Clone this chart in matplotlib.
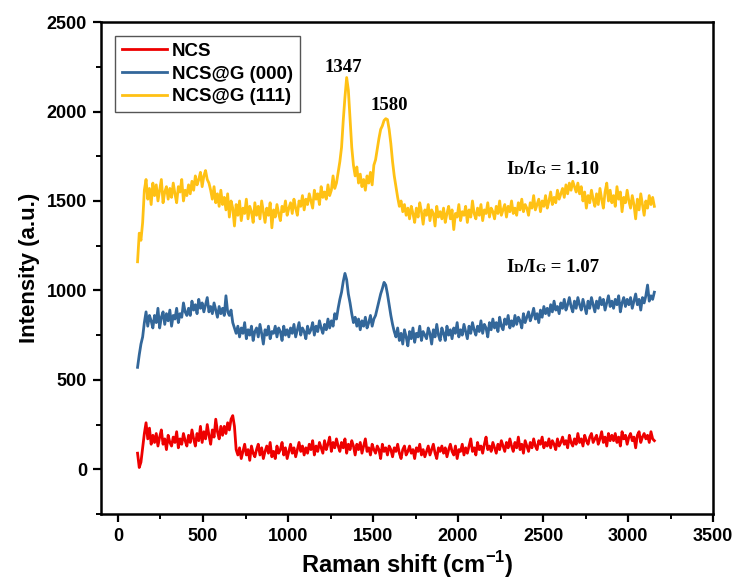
import numpy as np
import matplotlib
matplotlib.use("Agg")
import matplotlib.pyplot as plt
from matplotlib.offsetbox import TextArea, HPacker, AnnotationBbox
from matplotlib.ticker import MultipleLocator

plt.rcParams['font.family'] = ['Liberation Sans', 'DejaVu Sans']
plt.rcParams['mathtext.fontset'] = 'custom'
plt.rcParams['mathtext.rm'] = 'Liberation Sans:bold'
plt.rcParams['mathtext.bf'] = 'Liberation Sans:bold'

shift_start = 115
shift_step = 10

labels = ["NCS", "NCS@G (000)", "NCS@G (111)"]
colors = ["#EE0000", "#33679A", "#FFC114"]

ncs = [
    90, 10, 40, 120, 200, 260, 170, 230, 140, 190,
    150, 200, 130, 180, 220, 140, 170, 110, 190, 150,
    130, 180, 150, 210, 120, 170, 140, 200, 160, 130,
    190, 150, 220, 170, 130, 200, 160, 240, 150, 210,
    170, 250, 190, 140, 220, 180, 280, 210, 170, 240,
    190, 240, 200, 260, 220, 280, 300, 240, 110, 80,
    120, 60, 100, 140, 80, 110, 50, 130, 90, 70,
    110, 140, 80, 120, 60, 100, 130, 90, 150, 70,
    100, 60, 130, 90, 110, 150, 80, 120, 60, 100,
    140, 90, 120, 70, 110, 150, 100, 130, 80, 120,
    90, 140, 110, 160, 80, 130, 100, 150, 120, 90,
    160, 110, 140, 180, 100, 150, 120, 170, 130, 100,
    150, 120, 170, 90, 140, 110, 160, 130, 80, 140,
    110, 150, 90, 130, 170, 100, 120, 80, 140, 110,
    90, 130, 110, 60, 140, 100, 120, 80, 130, 110,
    70, 120, 100, 140, 90, 60, 110, 130, 80, 100,
    130, 90, 110, 60, 120, 100, 140, 80, 110, 70,
    100, 130, 80, 110, 140, 90, 60, 120, 100, 130,
    90, 120, 70, 110, 140, 100, 80, 130, 60, 110,
    100, 140, 80, 120, 90, 130, 170, 100, 120, 80,
    150, 110, 130, 90, 140, 180, 110, 130, 100, 150,
    120, 90, 140, 110, 160, 130, 100, 150, 120, 170,
    130, 100, 150, 120, 180, 110, 140, 90, 160, 130,
    100, 150, 120, 170, 130, 110, 160, 140, 180, 120,
    150, 130, 170, 120, 160, 140, 110, 170, 130, 150,
    180, 140, 160, 120, 190, 150, 130, 170, 140, 200,
    150, 170, 130, 190, 160, 140, 180, 200, 150, 170,
    190, 140, 170, 210, 150, 180, 130, 200, 160, 190,
    160, 200, 150, 180, 130, 210, 170, 190, 140, 180,
    200, 160, 180, 120, 190, 210, 150, 180, 200, 170,
    190, 150, 210, 170, 160,
]

ncs_g000 = [
    570, 640, 700, 740, 820, 880, 800, 860, 830, 790,
    860, 820, 900, 790, 850, 880, 810, 870, 830, 890,
    800, 860, 840, 900, 820, 870, 850, 930, 880, 860,
    900, 860, 940, 890, 920, 870, 950, 900, 930, 880,
    920, 960, 880, 910, 870, 930, 890, 850, 910, 870,
    900, 860, 970, 880, 860, 890, 820, 790, 760, 800,
    740, 790, 760, 820, 730, 780, 750, 800, 720, 770,
    790, 740, 810, 760, 700, 780, 750, 800, 730, 770,
    760, 800, 740, 790, 770, 720, 800, 750, 780, 740,
    790, 760, 810, 740, 780, 820, 750, 790, 770, 730,
    800, 760, 780, 820, 750, 800, 770, 830, 790, 760,
    810, 780, 840, 790, 830, 800, 870, 840, 900, 950,
    990, 1050, 1095, 1060, 980, 930, 870, 820, 850, 800,
    840, 780, 830, 800, 850, 790, 820, 860, 800, 840,
    860, 900, 940, 980, 1010, 1045, 1030, 980, 920, 860,
    810, 770, 740, 790, 720, 760, 700, 780, 740, 690,
    770, 730, 790, 710, 760, 740, 800, 720, 770, 750,
    730, 790, 760, 700, 780, 740, 810, 750, 720, 790,
    760, 720, 800, 750, 780, 730, 790, 760, 820, 740,
    780, 750, 810, 770, 730, 800, 760, 820, 780, 750,
    800, 770, 830, 760, 810, 790, 740, 820, 780, 840,
    790, 820, 770, 850, 800, 780, 840, 810, 860, 790,
    830, 800, 860, 810, 850, 830, 790, 870, 820, 850,
    880, 830, 860, 900, 840, 870, 820, 890, 850, 910,
    870, 900, 860, 920, 880, 940, 890, 910, 870, 930,
    900, 950, 890, 920, 960, 910, 880, 940, 900, 960,
    920, 890, 950, 910, 870, 940, 900, 960, 920, 880,
    940, 900, 960, 920, 950, 890, 930, 970, 910, 940,
    900, 950, 920, 970, 880, 930, 960, 910, 950, 920,
    960, 900, 940, 980, 920, 950, 890, 960, 930, 970,
    1030, 940, 970, 950, 990,
]

ncs_g111 = [
    1160, 1320, 1280, 1380, 1560, 1620, 1510, 1570, 1480, 1600,
    1530, 1590, 1500, 1560, 1620, 1490, 1550, 1580, 1510, 1570,
    1520, 1600, 1540, 1490, 1580, 1550, 1620, 1500, 1560, 1530,
    1590, 1540, 1610, 1560, 1640, 1590, 1620, 1660, 1580, 1640,
    1670, 1620, 1600, 1560, 1510, 1580, 1490, 1540, 1470, 1560,
    1480, 1520, 1450, 1540, 1410, 1500, 1460, 1360, 1480, 1420,
    1500, 1390, 1460, 1430, 1510, 1400, 1470, 1440, 1380, 1490,
    1420, 1470, 1400, 1500, 1440, 1380, 1460, 1420, 1490, 1350,
    1450, 1410, 1480, 1430, 1390, 1470, 1440, 1500, 1420, 1460,
    1490, 1430, 1510, 1460, 1420, 1500, 1470, 1530, 1450, 1510,
    1480, 1540, 1500, 1460, 1560, 1510, 1540, 1480, 1580, 1520,
    1550, 1510, 1590, 1530, 1560, 1640, 1570, 1600, 1660, 1720,
    1800, 1950, 2080, 2190, 2120, 1960, 1800, 1700, 1640, 1690,
    1600, 1650, 1580, 1620, 1560, 1640, 1600, 1660, 1590, 1700,
    1730, 1790, 1850, 1900, 1920, 1950, 1960, 1955, 1900, 1820,
    1720, 1640, 1580, 1520, 1470, 1500, 1440, 1480, 1420, 1460,
    1400, 1470, 1430, 1380, 1460, 1410, 1490, 1440, 1370, 1450,
    1420, 1480, 1390, 1450, 1430, 1360, 1470, 1410, 1440, 1400,
    1460, 1380, 1430, 1470, 1400, 1450, 1340, 1430, 1410, 1480,
    1390, 1440, 1420, 1470, 1380, 1450, 1410, 1500, 1430, 1400,
    1460, 1420, 1480, 1390, 1450, 1430, 1490, 1410, 1460, 1440,
    1400, 1470, 1430, 1500, 1420, 1450, 1480, 1410, 1470, 1440,
    1500, 1430, 1460, 1420, 1490, 1450, 1510, 1440, 1480, 1460,
    1420, 1490, 1460, 1530, 1450, 1480, 1510, 1440, 1500, 1470,
    1530, 1460, 1500, 1550, 1480, 1520, 1490, 1560, 1510, 1540,
    1570, 1520, 1590, 1540, 1600, 1560, 1610, 1580, 1550, 1600,
    1540, 1580, 1500, 1550, 1460, 1530, 1490, 1560, 1510, 1470,
    1540, 1480, 1570, 1510, 1460, 1550, 1600, 1500, 1560, 1490,
    1530, 1470, 1580, 1510, 1550, 1440, 1520, 1490, 1560, 1500,
    1460, 1530, 1480, 1400, 1510, 1450, 1540, 1480, 1420, 1500,
    1460, 1530, 1480, 1520, 1470,
]

series = [ncs, ncs_g000, ncs_g111]

peak_labels = ["1347", "1580"]
peak_pos = [(1325, 2248), (1596, 2036)]
ratio_values = ["1.10", "1.07"]
ratio_pos = [(2556, 1678), (2556, 1130)]

fig = plt.figure(figsize=(7.34, 5.81), dpi=100)
ax = fig.add_axes([0.1376, 0.1153, 0.8338, 0.8467])

for vals, lab, col in zip(series, labels, colors):
    x = shift_start + shift_step * np.arange(len(vals))
    ax.plot(x, vals, color=col, lw=2.0, label=lab)

ax.set_xlim(-100, 3500)
ax.set_ylim(-250, 2500)
ax.xaxis.set_major_locator(MultipleLocator(500))
ax.xaxis.set_minor_locator(MultipleLocator(250))
ax.yaxis.set_major_locator(MultipleLocator(500))
ax.yaxis.set_minor_locator(MultipleLocator(250))
ax.tick_params(which='major', direction='out', length=6, width=1.6, labelsize=13, pad=4)
ax.tick_params(which='minor', direction='out', length=3.5, width=1.4)
for lbl in ax.get_xticklabels() + ax.get_yticklabels():
    lbl.set_fontweight('bold')
for sp in ax.spines.values():
    sp.set_linewidth(1.8)

ax.set_xlabel(r'Raman shift (cm$^{\mathbf{-1}}$)', fontsize=17, fontweight='bold', labelpad=3)
ax.set_ylabel('Intensity (a.u.)', fontsize=16, fontweight='bold', labelpad=5)

leg = ax.legend(loc='upper left', bbox_to_anchor=(14/612, 1 - 14/492), borderaxespad=0,
                fancybox=False, edgecolor='#555555', framealpha=1,
                prop={'weight': 'bold', 'size': 13.5}, handlelength=2.4,
                handletextpad=0.3, labelspacing=0.3, borderpad=0.35)
leg.get_frame().set_linewidth(1.0)

for txt, (px, py) in zip(peak_labels, peak_pos):
    ax.text(px, py, txt, ha='center', va='center', fontsize=13.5,
            fontweight='bold', family='Liberation Serif')

big = dict(size=13.5, weight='bold', family='Liberation Serif', color='black')
small = dict(size=9.5, weight='bold', family='Liberation Serif', color='black')
for val, (px, py) in zip(ratio_values, ratio_pos):
    parts = [TextArea("I", textprops=big), TextArea("D", textprops=small),
             TextArea("/I", textprops=big), TextArea("G", textprops=small),
             TextArea(" = " + val, textprops=big)]
    box = HPacker(children=parts, align="baseline", pad=0, sep=0)
    ab = AnnotationBbox(box, (px, py), frameon=False, box_alignment=(0.5, 0.5))
    ax.add_artist(ab)

fig.savefig("out.png", dpi=100)
